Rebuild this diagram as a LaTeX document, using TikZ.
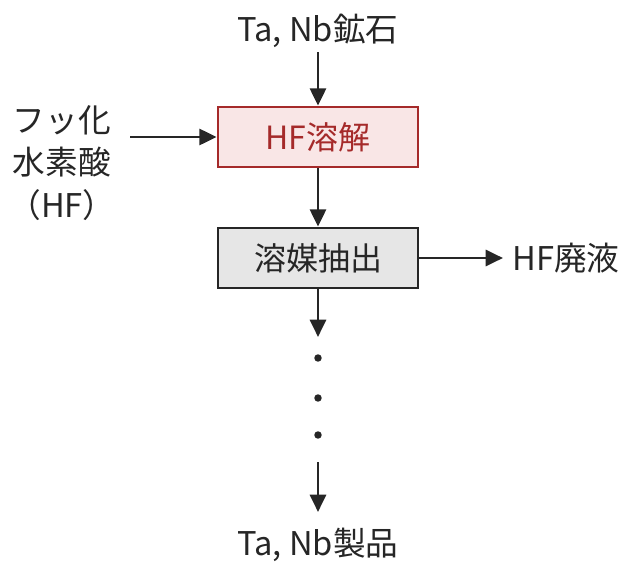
\documentclass[tikz,border=0pt]{standalone}
\usepackage{fontspec}
\setmainfont{Noto Sans CJK JP}
\usetikzlibrary{arrows.meta}
\definecolor{redb}{HTML}{A52A2A}
\definecolor{pinkf}{HTML}{F9E6E6}
\definecolor{grayf}{HTML}{E6E6E6}
\begin{document}
\begin{tikzpicture}[x=0.75pt,y=-0.75pt,
  txt/.style={font=\fontsize{24.5}{32}\selectfont, text=black!85, align=center},
  arr/.style={-{Triangle[length=13pt,width=12pt]}, line width=2.2pt, draw=black!85},
  boxr/.style={draw=redb, fill=pinkf, line width=2pt, minimum width=150pt, minimum height=45pt, text=redb, font=\fontsize{24}{28}\selectfont},
  boxg/.style={draw=black!85, fill=grayf, line width=2pt, minimum width=150pt, minimum height=45pt, text=black!85, font=\fontsize{24}{28}\selectfont}]
\useasboundingbox (0,0) rectangle (640,568);
\node[txt] (ore) at (318,31) {Ta, Nb鉱石};
\node[boxr] (hf) at (318,137) {HF溶解};
\node[boxg] (ext) at (318,258) {溶媒抽出};
\node[txt] (acid) at (62,163) {フッ化\\水素酸\\（HF）};
\node[txt] (waste) at (566,258) {HF廃液};
\node[txt] (prod) at (318,545) {Ta, Nb製品};
\coordinate (a1) at (318,52);
\coordinate (l1) at (130,137);
\coordinate (w1) at (503,258);
\coordinate (d1) at (318,337);
\coordinate (d2) at (318,462);
\coordinate (d3) at (318,512);
\draw[arr] (a1) -- (hf.north);
\draw[arr] (l1) -- (hf.west);
\draw[arr] (hf.south) -- (ext.north);
\draw[arr] (ext.east) -- (w1);
\draw[arr] (ext.south) -- (d1);
\draw[arr] (d2) -- (d3);
\foreach \y/\n in {358/p1,398/p2,435/p3} \fill[black!85] (318,\y) circle (2.8pt) coordinate (\n);
\end{tikzpicture}
\end{document}
